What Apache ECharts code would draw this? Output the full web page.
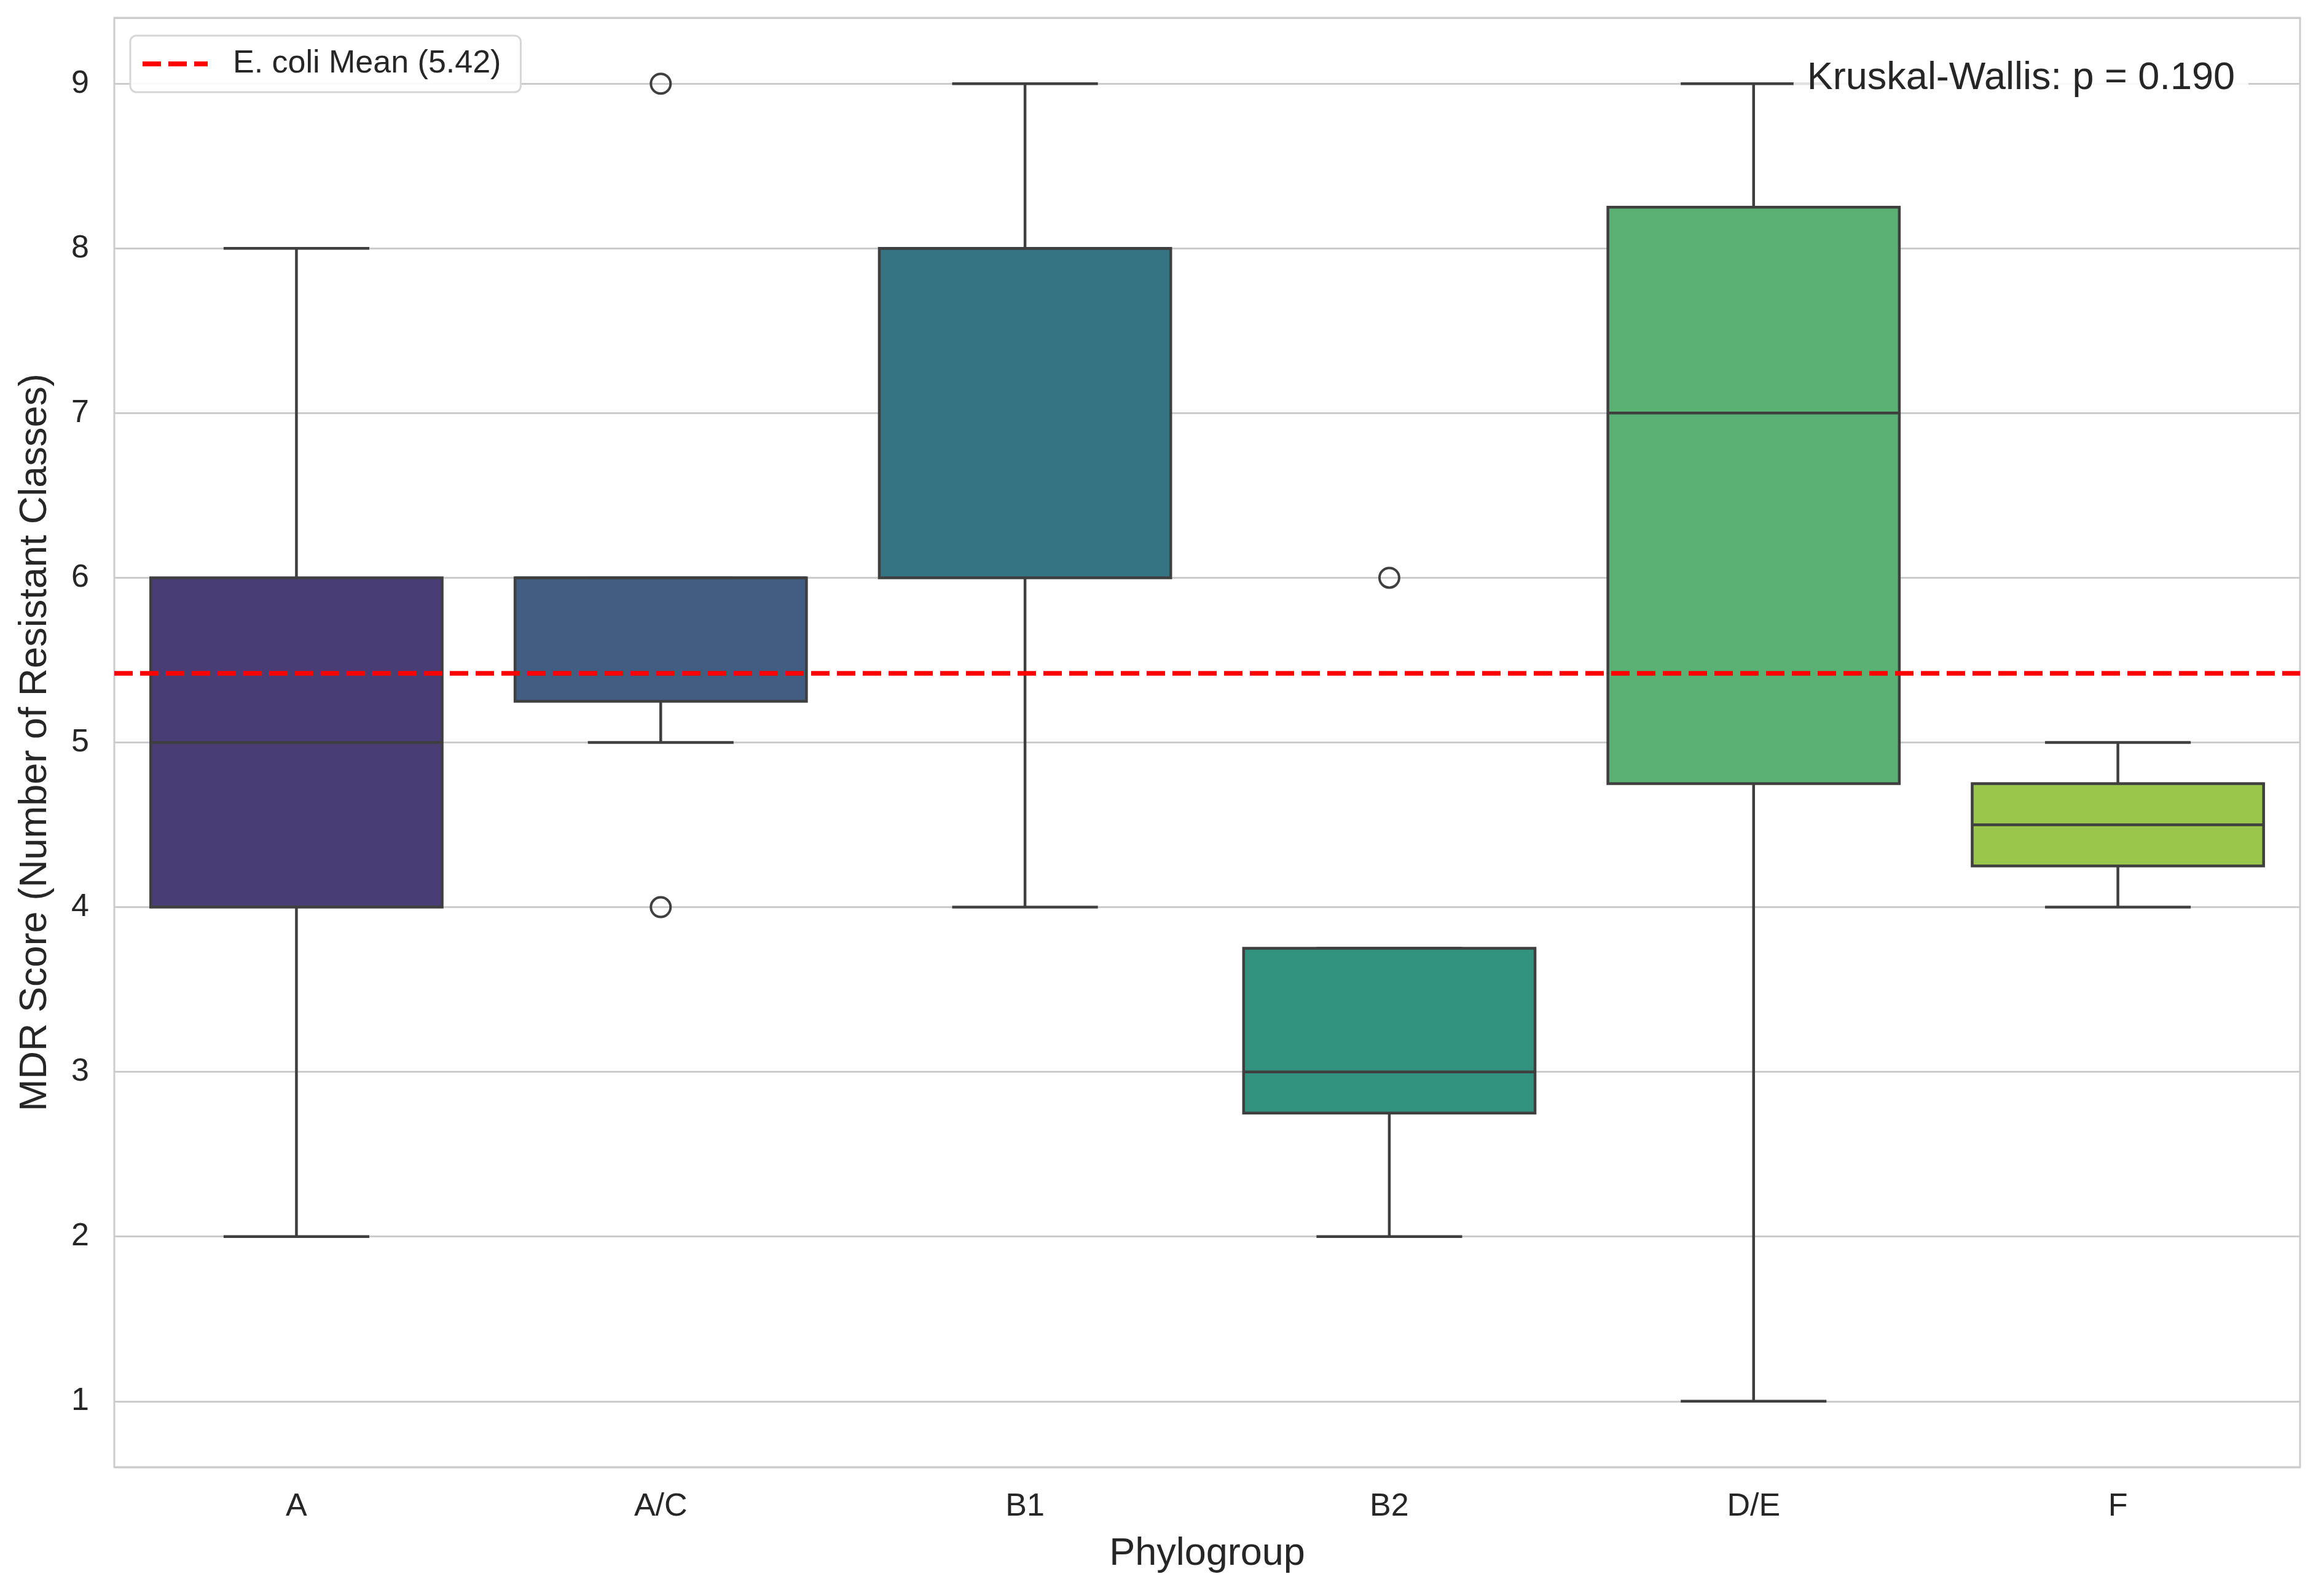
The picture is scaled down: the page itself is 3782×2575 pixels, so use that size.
<!DOCTYPE html>
<html>
<head>
<meta charset="utf-8">
<script src="https://cdn.jsdelivr.net/npm/echarts@6/dist/echarts.min.js"></script>
<style>
html,body{margin:0;padding:0;background:#fff;}
#chart{width:3782px;height:2575px;}
</style>
</head>
<body>
<div id="chart"></div>
<script>
// ---- data ----
const categories = ['A', 'A/C', 'B1', 'B2', 'D/E', 'F'];
const whiskerLow  = [2, 5, 4, 2, 1, 4];
const q1Values    = [4, 5.25, 6, 2.75, 4.75, 4.25];
const medianValues= [5, 6, 8, 3, 7, 4.5];
const q3Values    = [6, 6, 8, 3.75, 8.25, 4.75];
const whiskerHigh = [8, 6, 9, 3.75, 9, 5];
const outlierCategories = ['A/C', 'A/C', 'B2'];
const outlierValues     = [9, 4, 6];
const meanValue = 5.42;
const meanLabel = 'E. coli Mean (5.42)';
const statText = 'Kruskal-Wallis: p = 0.190';
const yTicks = [1, 2, 3, 4, 5, 6, 7, 8, 9];

// ---- styles ----
const palette = ['#4a3d76', '#425d82', '#357482', '#31937d', '#59b273', '#9ac64d'];
const lineColor = '#3f3f3f';
const textColor = '#262626';
const font = 'Liberation Sans, Arial, Helvetica, sans-serif';
const lw = 4.5;
const dashIcon = 'path://M0,0h30v8h-30z M42,0h30v8h-30z M84,0h22v8h-22z';

const boxData = categories.map((c, i) => [i, whiskerLow[i], q1Values[i], medianValues[i], q3Values[i], whiskerHigh[i]]);
const outlierData = outlierCategories.map((c, i) => [categories.indexOf(c), outlierValues[i]]);

const chart = echarts.init(document.getElementById('chart'), null, {renderer: 'canvas'});

function renderBox(params, api) {
  const idx = api.value(0);
  const band = api.size([1, 0])[0];
  const boxW = band * 0.8;
  const capW = boxW / 2;
  const pLow = api.coord([idx, api.value(1)]);
  const pQ1 = api.coord([idx, api.value(2)]);
  const pMed = api.coord([idx, api.value(3)]);
  const pQ3 = api.coord([idx, api.value(4)]);
  const pHigh = api.coord([idx, api.value(5)]);
  const cx = pQ1[0];
  const st = {stroke: lineColor, lineWidth: lw, fill: null};
  return {
    type: 'group',
    children: [
      {type: 'line', shape: {x1: cx, y1: pQ3[1], x2: cx, y2: pHigh[1]}, style: st},
      {type: 'line', shape: {x1: cx, y1: pQ1[1], x2: cx, y2: pLow[1]}, style: st},
      {type: 'line', shape: {x1: cx - capW / 2, y1: pHigh[1], x2: cx + capW / 2, y2: pHigh[1]}, style: st},
      {type: 'line', shape: {x1: cx - capW / 2, y1: pLow[1], x2: cx + capW / 2, y2: pLow[1]}, style: st},
      {type: 'rect', shape: {x: cx - boxW / 2, y: pQ3[1], width: boxW, height: pQ1[1] - pQ3[1]},
        style: {fill: palette[idx], stroke: lineColor, lineWidth: lw}},
      {type: 'line', shape: {x1: cx - boxW / 2, y1: pMed[1], x2: cx + boxW / 2, y2: pMed[1]}, style: st}
    ]
  };
}

const option = {
  backgroundColor: '#ffffff',
  animation: false,
  textStyle: {fontFamily: font, color: textColor},
  grid: {left: 186, right: 39, top: 29, bottom: 187, show: true, borderColor: '#cccccc', borderWidth: 3, backgroundColor: '#ffffff'},
  title: {
    text: statText,
    right: 123, top: 90,
    padding: [6, 22, 6, 22],
    backgroundColor: 'rgba(255,255,255,0.85)',
    textStyle: {fontFamily: font, fontSize: 63, fontWeight: 'normal', color: textColor},
    z: 20
  },
  legend: {
    left: 212, top: 58,
    orient: 'vertical',
    padding: [20, 32, 20, 20],
    backgroundColor: 'rgba(255,255,255,0.9)',
    borderColor: '#d6d6d6', borderWidth: 3, borderRadius: 10,
    itemWidth: 106, itemHeight: 8,
    textStyle: {fontFamily: font, fontSize: 52, color: textColor, padding: [0, 0, 0, 36]},
    data: [{name: meanLabel, icon: dashIcon, itemStyle: {color: '#ff0000', borderWidth: 0}}],
    z: 20
  },
  xAxis: {
    type: 'category',
    data: categories,
    boundaryGap: true,
    name: 'Phylogroup',
    nameLocation: 'middle',
    nameGap: 110,
    nameTextStyle: {fontFamily: font, fontSize: 63, color: textColor},
    axisLine: {show: false},
    axisTick: {show: false},
    axisLabel: {fontFamily: font, fontSize: 52, color: textColor, margin: 39},
    splitLine: {show: false}
  },
  yAxis: {
    type: 'value',
    min: 0.6, max: 9.4,
    minInterval: 1, maxInterval: 1, splitNumber: 9,
    name: 'MDR Score (Number of Resistant Classes)',
    nameLocation: 'middle',
    nameGap: 97,
    nameTextStyle: {fontFamily: font, fontSize: 63, color: textColor},
    axisLine: {show: false},
    axisTick: {show: false},
    axisLabel: {
      fontFamily: font, fontSize: 52, color: textColor, margin: 41,
      showMinLabel: false, showMaxLabel: false,
      formatter: v => (yTicks.indexOf(v) >= 0 ? String(v) : '')
    },
    splitLine: {show: true, lineStyle: {color: '#cccccc', width: 3}}
  },
  series: [
    {
      type: 'custom',
      name: 'boxes',
      renderItem: renderBox,
      data: boxData,
      encode: {x: 0, y: [1, 2, 3, 4, 5]},
      z: 3
    },
    {
      type: 'scatter',
      name: 'outliers',
      data: outlierData,
      symbol: 'circle',
      symbolSize: 32,
      itemStyle: {color: 'rgba(0,0,0,0)', borderColor: lineColor, borderWidth: 4, opacity: 1},
      z: 4
    },
    {
      type: 'line',
      name: meanLabel,
      data: [],
      symbol: 'none',
      color: '#ff0000',
      lineStyle: {color: '#ff0000', width: 7.5, type: [30, 12]},
      markLine: {
        silent: true,
        symbol: 'none',
        label: {show: false},
        lineStyle: {color: '#ff0000', width: 7.5, type: [30, 12]},
        data: [{yAxis: meanValue}]
      },
      z: 5
    }
  ]
};
chart.setOption(option);
</script>
</body>
</html>
